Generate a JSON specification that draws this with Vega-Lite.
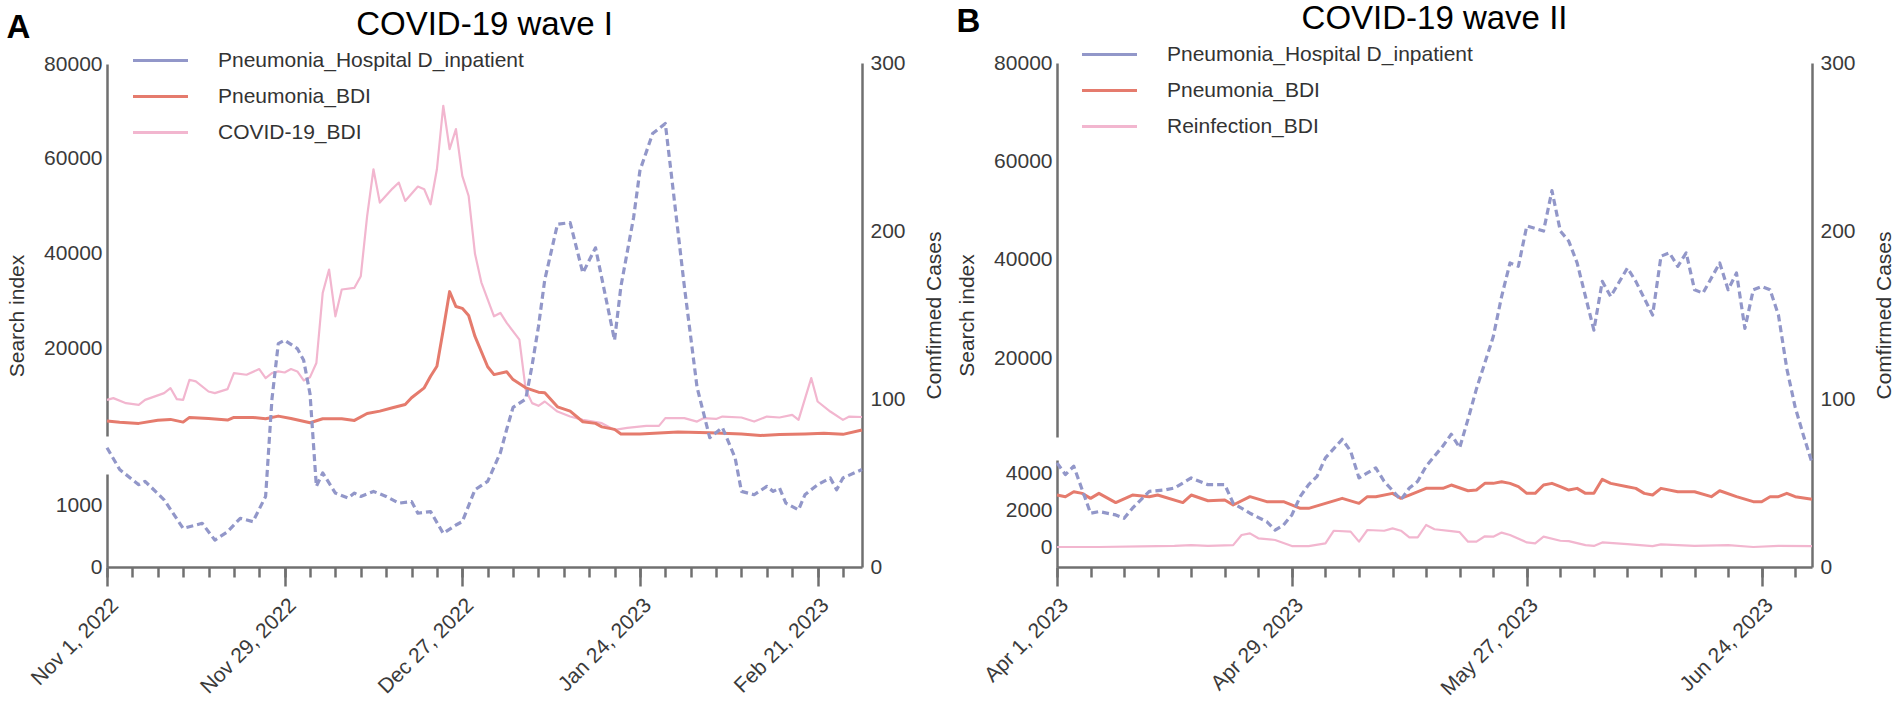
{
  "$schema": "https://vega.github.io/schema/vega-lite/v6.json",
  "background": "white",
  "padding": {"left": 6, "top": 3, "right": 5, "bottom": 5},
  "config": {
    "font": "Liberation Sans",
    "view": {"stroke": null},
    "axis": {
      "grid": false,
      "labelFont": "Liberation Sans",
      "labelFontSize": 21,
      "labelColor": "#3a3a3a",
      "titleFont": "Liberation Sans",
      "titleFontSize": 21,
      "titleFontWeight": "normal",
      "titleColor": "#333333",
      "domainColor": "#707070",
      "domainWidth": 2.5,
      "tickColor": "#707070",
      "tickWidth": 2.5
    },
    "title": {"font": "Liberation Sans", "color": "#111111"},
    "line": {"strokeJoin": "round"}
  },
  "datasets": {
    "aHosp": [
      {"d": "2022-11-01", "v": 71}, {"d": "2022-11-03", "v": 58}, {"d": "2022-11-06", "v": 49}, {"d": "2022-11-07", "v": 51},
      {"d": "2022-11-10", "v": 40}, {"d": "2022-11-13", "v": 23}, {"d": "2022-11-16", "v": 26}, {"d": "2022-11-18", "v": 16},
      {"d": "2022-11-20", "v": 21}, {"d": "2022-11-22", "v": 29}, {"d": "2022-11-24", "v": 27}, {"d": "2022-11-26", "v": 42},
      {"d": "2022-11-27", "v": 100}, {"d": "2022-11-28", "v": 133}, {"d": "2022-11-29", "v": 135}, {"d": "2022-12-01", "v": 130},
      {"d": "2022-12-02", "v": 123}, {"d": "2022-12-03", "v": 103}, {"d": "2022-12-04", "v": 48}, {"d": "2022-12-05", "v": 56},
      {"d": "2022-12-07", "v": 44}, {"d": "2022-12-09", "v": 41}, {"d": "2022-12-10", "v": 44}, {"d": "2022-12-11", "v": 42},
      {"d": "2022-12-13", "v": 45}, {"d": "2022-12-15", "v": 42}, {"d": "2022-12-17", "v": 38}, {"d": "2022-12-19", "v": 39},
      {"d": "2022-12-20", "v": 32}, {"d": "2022-12-22", "v": 33}, {"d": "2022-12-24", "v": 20}, {"d": "2022-12-26", "v": 25},
      {"d": "2022-12-27", "v": 27}, {"d": "2022-12-29", "v": 46}, {"d": "2022-12-31", "v": 51}, {"d": "2023-01-02", "v": 68},
      {"d": "2023-01-03", "v": 82}, {"d": "2023-01-04", "v": 95}, {"d": "2023-01-06", "v": 100}, {"d": "2023-01-07", "v": 120},
      {"d": "2023-01-08", "v": 143}, {"d": "2023-01-09", "v": 171}, {"d": "2023-01-11", "v": 204}, {"d": "2023-01-13", "v": 205},
      {"d": "2023-01-15", "v": 175}, {"d": "2023-01-17", "v": 190}, {"d": "2023-01-20", "v": 135}, {"d": "2023-01-21", "v": 167},
      {"d": "2023-01-23", "v": 208}, {"d": "2023-01-24", "v": 236}, {"d": "2023-01-26", "v": 258}, {"d": "2023-01-28", "v": 264},
      {"d": "2023-01-29", "v": 232}, {"d": "2023-01-31", "v": 167}, {"d": "2023-02-02", "v": 107}, {"d": "2023-02-04", "v": 77},
      {"d": "2023-02-06", "v": 83}, {"d": "2023-02-08", "v": 65}, {"d": "2023-02-09", "v": 45}, {"d": "2023-02-11", "v": 43},
      {"d": "2023-02-13", "v": 48}, {"d": "2023-02-14", "v": 45}, {"d": "2023-02-15", "v": 47}, {"d": "2023-02-16", "v": 38},
      {"d": "2023-02-18", "v": 34}, {"d": "2023-02-19", "v": 43}, {"d": "2023-02-21", "v": 49}, {"d": "2023-02-23", "v": 53},
      {"d": "2023-02-24", "v": 46}, {"d": "2023-02-25", "v": 53}, {"d": "2023-02-28", "v": 58}
    ],
    "aPneu": [
      {"d": "2022-11-01", "v": 4740}, {"d": "2022-11-03", "v": 4500}, {"d": "2022-11-06", "v": 4260}, {"d": "2022-11-09", "v": 4900},
      {"d": "2022-11-11", "v": 5100}, {"d": "2022-11-13", "v": 4530}, {"d": "2022-11-14", "v": 5520}, {"d": "2022-11-17", "v": 5300},
      {"d": "2022-11-20", "v": 4950}, {"d": "2022-11-21", "v": 5520}, {"d": "2022-11-24", "v": 5500}, {"d": "2022-11-26", "v": 5240},
      {"d": "2022-11-28", "v": 5790}, {"d": "2022-11-30", "v": 5300}, {"d": "2022-12-03", "v": 4400}, {"d": "2022-12-05", "v": 5240},
      {"d": "2022-12-08", "v": 5240}, {"d": "2022-12-10", "v": 4880}, {"d": "2022-12-12", "v": 6350}, {"d": "2022-12-14", "v": 6840},
      {"d": "2022-12-16", "v": 7550}, {"d": "2022-12-18", "v": 8250}, {"d": "2022-12-19", "v": 9650}, {"d": "2022-12-21", "v": 11750},
      {"d": "2022-12-22", "v": 14190}, {"d": "2022-12-23", "v": 16290}, {"d": "2022-12-24", "v": 24000}, {"d": "2022-12-25", "v": 32030},
      {"d": "2022-12-26", "v": 28880}, {"d": "2022-12-27", "v": 28500}, {"d": "2022-12-28", "v": 27000}, {"d": "2022-12-29", "v": 22580},
      {"d": "2022-12-31", "v": 16200}, {"d": "2023-01-01", "v": 14540}, {"d": "2023-01-03", "v": 15140}, {"d": "2023-01-04", "v": 13490},
      {"d": "2023-01-06", "v": 11760}, {"d": "2023-01-08", "v": 10830}, {"d": "2023-01-09", "v": 10700}, {"d": "2023-01-11", "v": 7740},
      {"d": "2023-01-13", "v": 6840}, {"d": "2023-01-15", "v": 4600}, {"d": "2023-01-17", "v": 4260}, {"d": "2023-01-18", "v": 3520},
      {"d": "2023-01-20", "v": 3000}, {"d": "2023-01-21", "v": 2040}, {"d": "2023-01-24", "v": 2040}, {"d": "2023-01-27", "v": 2250},
      {"d": "2023-01-30", "v": 2460}, {"d": "2023-02-04", "v": 2300}, {"d": "2023-02-09", "v": 2000}, {"d": "2023-02-12", "v": 1700},
      {"d": "2023-02-15", "v": 1900}, {"d": "2023-02-19", "v": 2040}, {"d": "2023-02-22", "v": 2190}, {"d": "2023-02-25", "v": 1950},
      {"d": "2023-02-28", "v": 2880}
    ],
    "aCovid": [
      {"d": "2022-11-01", "v": 9220}, {"d": "2022-11-02", "v": 9580}, {"d": "2022-11-04", "v": 8520}, {"d": "2022-11-06", "v": 8170},
      {"d": "2022-11-07", "v": 9220}, {"d": "2022-11-10", "v": 10640}, {"d": "2022-11-11", "v": 11700}, {"d": "2022-11-12", "v": 9370},
      {"d": "2022-11-13", "v": 9220}, {"d": "2022-11-14", "v": 13450}, {"d": "2022-11-15", "v": 13100}, {"d": "2022-11-17", "v": 10980},
      {"d": "2022-11-18", "v": 10640}, {"d": "2022-11-20", "v": 11480}, {"d": "2022-11-21", "v": 14860}, {"d": "2022-11-23", "v": 14510},
      {"d": "2022-11-25", "v": 15710}, {"d": "2022-11-26", "v": 13810}, {"d": "2022-11-27", "v": 14860}, {"d": "2022-11-28", "v": 15210},
      {"d": "2022-11-29", "v": 14990}, {"d": "2022-11-30", "v": 15710}, {"d": "2022-12-01", "v": 15210}, {"d": "2022-12-02", "v": 13300},
      {"d": "2022-12-03", "v": 14000}, {"d": "2022-12-04", "v": 16980}, {"d": "2022-12-05", "v": 31770}, {"d": "2022-12-06", "v": 36690},
      {"d": "2022-12-07", "v": 26830}, {"d": "2022-12-08", "v": 32470}, {"d": "2022-12-10", "v": 32830}, {"d": "2022-12-11", "v": 35280},
      {"d": "2022-12-12", "v": 47950}, {"d": "2022-12-13", "v": 57820}, {"d": "2022-12-14", "v": 50790}, {"d": "2022-12-16", "v": 53740},
      {"d": "2022-12-17", "v": 55010}, {"d": "2022-12-18", "v": 51130}, {"d": "2022-12-20", "v": 54170}, {"d": "2022-12-21", "v": 53600},
      {"d": "2022-12-22", "v": 50430}, {"d": "2022-12-23", "v": 57820}, {"d": "2022-12-24", "v": 71200}, {"d": "2022-12-25", "v": 62050},
      {"d": "2022-12-26", "v": 66280}, {"d": "2022-12-27", "v": 56410}, {"d": "2022-12-28", "v": 52180}, {"d": "2022-12-29", "v": 40000},
      {"d": "2022-12-30", "v": 34000}, {"d": "2023-01-01", "v": 26830}, {"d": "2023-01-02", "v": 27540}, {"d": "2023-01-03", "v": 25430},
      {"d": "2023-01-05", "v": 21900}, {"d": "2023-01-06", "v": 11340}, {"d": "2023-01-07", "v": 8530}, {"d": "2023-01-08", "v": 7960},
      {"d": "2023-01-09", "v": 8870}, {"d": "2023-01-11", "v": 6760}, {"d": "2023-01-13", "v": 5700}, {"d": "2023-01-15", "v": 5000},
      {"d": "2023-01-18", "v": 4300}, {"d": "2023-01-20", "v": 2880}, {"d": "2023-01-22", "v": 3300}, {"d": "2023-01-25", "v": 3730},
      {"d": "2023-01-27", "v": 3730}, {"d": "2023-01-28", "v": 5360}, {"d": "2023-01-31", "v": 5360}, {"d": "2023-02-02", "v": 4640},
      {"d": "2023-02-03", "v": 5360}, {"d": "2023-02-05", "v": 5200}, {"d": "2023-02-06", "v": 5700}, {"d": "2023-02-09", "v": 5500},
      {"d": "2023-02-11", "v": 4640}, {"d": "2023-02-13", "v": 5700}, {"d": "2023-02-15", "v": 5500}, {"d": "2023-02-17", "v": 6050},
      {"d": "2023-02-18", "v": 5000}, {"d": "2023-02-20", "v": 13810}, {"d": "2023-02-21", "v": 8870}, {"d": "2023-02-23", "v": 6760},
      {"d": "2023-02-25", "v": 5000}, {"d": "2023-02-26", "v": 5700}, {"d": "2023-02-28", "v": 5600}
    ],
    "bHosp": [
      {"d": "2023-04-01", "v": 62}, {"d": "2023-04-02", "v": 55}, {"d": "2023-04-03", "v": 60}, {"d": "2023-04-05", "v": 32},
      {"d": "2023-04-06", "v": 33}, {"d": "2023-04-08", "v": 31}, {"d": "2023-04-09", "v": 29}, {"d": "2023-04-10", "v": 35},
      {"d": "2023-04-12", "v": 45}, {"d": "2023-04-14", "v": 46}, {"d": "2023-04-15", "v": 47}, {"d": "2023-04-17", "v": 53},
      {"d": "2023-04-19", "v": 49}, {"d": "2023-04-21", "v": 49}, {"d": "2023-04-22", "v": 38}, {"d": "2023-04-24", "v": 32},
      {"d": "2023-04-26", "v": 27}, {"d": "2023-04-27", "v": 22}, {"d": "2023-04-28", "v": 25}, {"d": "2023-04-29", "v": 31},
      {"d": "2023-04-30", "v": 42}, {"d": "2023-05-01", "v": 49}, {"d": "2023-05-02", "v": 54}, {"d": "2023-05-03", "v": 65},
      {"d": "2023-05-05", "v": 76}, {"d": "2023-05-06", "v": 69}, {"d": "2023-05-07", "v": 53}, {"d": "2023-05-08", "v": 56},
      {"d": "2023-05-09", "v": 59}, {"d": "2023-05-10", "v": 51}, {"d": "2023-05-12", "v": 40}, {"d": "2023-05-13", "v": 47},
      {"d": "2023-05-14", "v": 51}, {"d": "2023-05-15", "v": 60}, {"d": "2023-05-17", "v": 72}, {"d": "2023-05-18", "v": 79},
      {"d": "2023-05-19", "v": 71}, {"d": "2023-05-20", "v": 88}, {"d": "2023-05-21", "v": 106}, {"d": "2023-05-23", "v": 137},
      {"d": "2023-05-24", "v": 161}, {"d": "2023-05-25", "v": 181}, {"d": "2023-05-26", "v": 179}, {"d": "2023-05-27", "v": 203},
      {"d": "2023-05-29", "v": 200}, {"d": "2023-05-30", "v": 224}, {"d": "2023-05-31", "v": 200}, {"d": "2023-06-01", "v": 194},
      {"d": "2023-06-02", "v": 181}, {"d": "2023-06-04", "v": 141}, {"d": "2023-06-05", "v": 170}, {"d": "2023-06-06", "v": 161},
      {"d": "2023-06-08", "v": 178}, {"d": "2023-06-09", "v": 170}, {"d": "2023-06-11", "v": 150}, {"d": "2023-06-12", "v": 185},
      {"d": "2023-06-13", "v": 187}, {"d": "2023-06-14", "v": 179}, {"d": "2023-06-15", "v": 187}, {"d": "2023-06-16", "v": 165},
      {"d": "2023-06-17", "v": 163}, {"d": "2023-06-19", "v": 181}, {"d": "2023-06-20", "v": 165}, {"d": "2023-06-21", "v": 175},
      {"d": "2023-06-22", "v": 142}, {"d": "2023-06-23", "v": 165}, {"d": "2023-06-24", "v": 167}, {"d": "2023-06-25", "v": 165},
      {"d": "2023-06-26", "v": 150}, {"d": "2023-06-27", "v": 118}, {"d": "2023-06-28", "v": 95}, {"d": "2023-06-29", "v": 78},
      {"d": "2023-06-30", "v": 62}
    ],
    "bPneu": [
      {"d": "2023-04-01", "v": 2810}, {"d": "2023-04-02", "v": 2720}, {"d": "2023-04-03", "v": 2990}, {"d": "2023-04-04", "v": 2900},
      {"d": "2023-04-05", "v": 2630}, {"d": "2023-04-06", "v": 2900}, {"d": "2023-04-08", "v": 2400}, {"d": "2023-04-10", "v": 2810},
      {"d": "2023-04-12", "v": 2720}, {"d": "2023-04-13", "v": 2810}, {"d": "2023-04-16", "v": 2400}, {"d": "2023-04-17", "v": 2810},
      {"d": "2023-04-19", "v": 2500}, {"d": "2023-04-21", "v": 2540}, {"d": "2023-04-22", "v": 2270}, {"d": "2023-04-24", "v": 2720},
      {"d": "2023-04-26", "v": 2450}, {"d": "2023-04-28", "v": 2450}, {"d": "2023-04-30", "v": 2090}, {"d": "2023-05-01", "v": 2090},
      {"d": "2023-05-03", "v": 2360}, {"d": "2023-05-05", "v": 2630}, {"d": "2023-05-07", "v": 2360}, {"d": "2023-05-08", "v": 2720},
      {"d": "2023-05-09", "v": 2720}, {"d": "2023-05-11", "v": 2900}, {"d": "2023-05-12", "v": 2630}, {"d": "2023-05-13", "v": 2810},
      {"d": "2023-05-15", "v": 3170}, {"d": "2023-05-17", "v": 3170}, {"d": "2023-05-18", "v": 3350}, {"d": "2023-05-20", "v": 3040},
      {"d": "2023-05-21", "v": 3080}, {"d": "2023-05-22", "v": 3440}, {"d": "2023-05-23", "v": 3440}, {"d": "2023-05-24", "v": 3530},
      {"d": "2023-05-25", "v": 3440}, {"d": "2023-05-26", "v": 3260}, {"d": "2023-05-27", "v": 2900}, {"d": "2023-05-28", "v": 2900},
      {"d": "2023-05-29", "v": 3350}, {"d": "2023-05-30", "v": 3440}, {"d": "2023-05-31", "v": 3260}, {"d": "2023-06-01", "v": 3080},
      {"d": "2023-06-02", "v": 3170}, {"d": "2023-06-03", "v": 2900}, {"d": "2023-06-04", "v": 2900}, {"d": "2023-06-05", "v": 3660},
      {"d": "2023-06-06", "v": 3440}, {"d": "2023-06-08", "v": 3260}, {"d": "2023-06-09", "v": 3170}, {"d": "2023-06-10", "v": 2900},
      {"d": "2023-06-11", "v": 2810}, {"d": "2023-06-12", "v": 3170}, {"d": "2023-06-14", "v": 2990}, {"d": "2023-06-16", "v": 2990},
      {"d": "2023-06-18", "v": 2720}, {"d": "2023-06-19", "v": 3040}, {"d": "2023-06-21", "v": 2720}, {"d": "2023-06-23", "v": 2450},
      {"d": "2023-06-24", "v": 2450}, {"d": "2023-06-25", "v": 2720}, {"d": "2023-06-26", "v": 2720}, {"d": "2023-06-27", "v": 2900},
      {"d": "2023-06-28", "v": 2720}, {"d": "2023-06-30", "v": 2580}
    ],
    "bReinf": [
      {"d": "2023-04-01", "v": 0}, {"d": "2023-04-06", "v": 0}, {"d": "2023-04-11", "v": 30}, {"d": "2023-04-15", "v": 60},
      {"d": "2023-04-17", "v": 100}, {"d": "2023-04-19", "v": 60}, {"d": "2023-04-22", "v": 100}, {"d": "2023-04-23", "v": 650},
      {"d": "2023-04-24", "v": 740}, {"d": "2023-04-25", "v": 470}, {"d": "2023-04-27", "v": 380}, {"d": "2023-04-29", "v": 50},
      {"d": "2023-05-01", "v": 50}, {"d": "2023-05-03", "v": 200}, {"d": "2023-05-04", "v": 880}, {"d": "2023-05-06", "v": 830},
      {"d": "2023-05-07", "v": 290}, {"d": "2023-05-08", "v": 920}, {"d": "2023-05-10", "v": 880}, {"d": "2023-05-11", "v": 1010},
      {"d": "2023-05-12", "v": 880}, {"d": "2023-05-13", "v": 520}, {"d": "2023-05-14", "v": 520}, {"d": "2023-05-15", "v": 1190},
      {"d": "2023-05-16", "v": 960}, {"d": "2023-05-18", "v": 860}, {"d": "2023-05-19", "v": 800}, {"d": "2023-05-20", "v": 290},
      {"d": "2023-05-21", "v": 290}, {"d": "2023-05-22", "v": 580}, {"d": "2023-05-23", "v": 560}, {"d": "2023-05-24", "v": 780},
      {"d": "2023-05-25", "v": 650}, {"d": "2023-05-27", "v": 250}, {"d": "2023-05-28", "v": 200}, {"d": "2023-05-29", "v": 560},
      {"d": "2023-05-31", "v": 340}, {"d": "2023-06-01", "v": 320}, {"d": "2023-06-03", "v": 100}, {"d": "2023-06-04", "v": 60},
      {"d": "2023-06-05", "v": 250}, {"d": "2023-06-08", "v": 160}, {"d": "2023-06-11", "v": 50}, {"d": "2023-06-12", "v": 140},
      {"d": "2023-06-16", "v": 60}, {"d": "2023-06-20", "v": 100}, {"d": "2023-06-23", "v": 0}, {"d": "2023-06-26", "v": 60},
      {"d": "2023-06-30", "v": 50}
    ]
  },
  "spacing": 11,
  "hconcat": [
    {
      "title": {"text": "A", "anchor": "start", "frame": "bounds", "fontSize": 33, "fontWeight": "bold", "color": "#000000", "dy": 40},
      "resolve": {"scale": {"color": "independent"}, "legend": {"color": "independent"}},
      "vconcat": [
        {
          "width": 755,
          "height": 504,
          "title": {"text": "COVID-19 wave I", "fontSize": 33, "fontWeight": "normal", "color": "#000000", "anchor": "middle", "frame": "group", "offset": 8},
          "layer": [
            {
              "data": {"name": "aCovid"},
              "mark": {"type": "line", "strokeWidth": 2.2},
              "encoding": {
                "x": {
                  "field": "d",
                  "type": "temporal",
                  "scale": {"type": "utc", "domain": [{"year": 2022, "month": 11, "date": 1, "utc": true}, {"year": 2023, "month": 2, "date": 28, "utc": true}]},
                  "axis": {
                    "orient": "bottom",
                    "title": null,
                    "labels": false,
                    "tickSize": 10,
                    "values": [
                      {"year": 2022, "month": 11, "date": 1, "utc": true}, {"year": 2022, "month": 11, "date": 5, "utc": true},
                      {"year": 2022, "month": 11, "date": 9, "utc": true}, {"year": 2022, "month": 11, "date": 13, "utc": true},
                      {"year": 2022, "month": 11, "date": 17, "utc": true}, {"year": 2022, "month": 11, "date": 21, "utc": true},
                      {"year": 2022, "month": 11, "date": 25, "utc": true}, {"year": 2022, "month": 11, "date": 29, "utc": true},
                      {"year": 2022, "month": 12, "date": 3, "utc": true}, {"year": 2022, "month": 12, "date": 7, "utc": true},
                      {"year": 2022, "month": 12, "date": 11, "utc": true}, {"year": 2022, "month": 12, "date": 15, "utc": true},
                      {"year": 2022, "month": 12, "date": 19, "utc": true}, {"year": 2022, "month": 12, "date": 23, "utc": true},
                      {"year": 2022, "month": 12, "date": 27, "utc": true}, {"year": 2022, "month": 12, "date": 31, "utc": true},
                      {"year": 2023, "month": 1, "date": 4, "utc": true}, {"year": 2023, "month": 1, "date": 8, "utc": true},
                      {"year": 2023, "month": 1, "date": 12, "utc": true}, {"year": 2023, "month": 1, "date": 16, "utc": true},
                      {"year": 2023, "month": 1, "date": 20, "utc": true}, {"year": 2023, "month": 1, "date": 24, "utc": true},
                      {"year": 2023, "month": 1, "date": 28, "utc": true}, {"year": 2023, "month": 2, "date": 1, "utc": true},
                      {"year": 2023, "month": 2, "date": 5, "utc": true}, {"year": 2023, "month": 2, "date": 9, "utc": true},
                      {"year": 2023, "month": 2, "date": 13, "utc": true}, {"year": 2023, "month": 2, "date": 17, "utc": true},
                      {"year": 2023, "month": 2, "date": 21, "utc": true}, {"year": 2023, "month": 2, "date": 25, "utc": true}
                    ]
                  }
                },
                "y": {"field": "v", "type": "quantitative", "scale": {"domain": [0, 1500, 1600, 80000], "range": [504, 411, 373, 1], "nice": false, "zero": false}, "axis": null},
                "color": {
                  "datum": "COVID-19_BDI",
                  "type": "nominal",
                  "scale": {"domain": ["Pneumonia_Hospital D_inpatient", "Pneumonia_BDI", "COVID-19_BDI"], "range": ["#9297c9", "#e57b6d", "#f2b6cf"]},
                  "legend": {
                    "orient": "none",
                    "direction": "vertical",
                    "legendX": 43,
                    "legendY": -13,
                    "title": null,
                    "symbolType": "M-6,0H6",
                    "symbolSize": 84,
                    "symbolStrokeWidth": 3,
                    "labelFontSize": 21,
                    "labelColor": "#333333",
                    "labelOffset": 47,
                    "labelLimit": 600,
                    "rowPadding": 14,
                    "encode": {"symbols": {"update": {"strokeDash": {"signal": "datum.value === 'Pneumonia_Hospital D_inpatient' ? [7, 4] : [1, 0]"}}}}
                  }
                }
              }
            },
            {
              "data": {"name": "aPneu"},
              "mark": {"type": "line", "strokeWidth": 3},
              "encoding": {
                "x": {
                  "field": "d",
                  "type": "temporal",
                  "scale": {"type": "utc", "domain": [{"year": 2022, "month": 11, "date": 1, "utc": true}, {"year": 2023, "month": 2, "date": 28, "utc": true}]},
                  "axis": {
                    "orient": "bottom",
                    "title": null,
                    "domain": false,
                    "tickSize": 19,
                    "values": [
                      {"year": 2022, "month": 11, "date": 1, "utc": true}, {"year": 2022, "month": 11, "date": 29, "utc": true},
                      {"year": 2022, "month": 12, "date": 27, "utc": true}, {"year": 2023, "month": 1, "date": 24, "utc": true},
                      {"year": 2023, "month": 2, "date": 21, "utc": true}
                    ],
                    "labelExpr": "utcFormat(datum.value, '%b %-d, %Y')",
                    "labelAngle": -45,
                    "labelOverlap": false,
                    "labelFlush": false,
                    "labelPadding": 8
                  }
                },
                "y": {
                  "field": "v",
                  "type": "quantitative",
                  "scale": {"domain": [0, 1500, 1600, 80000], "range": [504, 411, 373, 1], "nice": false, "zero": false},
                  "axis": {"orient": "left", "title": "Search index", "values": [0, 1000, 20000, 40000, 60000, 80000], "format": "d", "ticks": false, "labelPadding": 5, "titlePadding": 16, "domainDash": [93, 38, 1000]}
                },
                "color": {
                  "datum": "Pneumonia_BDI",
                  "type": "nominal",
                  "scale": {"domain": ["Pneumonia_Hospital D_inpatient", "Pneumonia_BDI", "COVID-19_BDI"], "range": ["#9297c9", "#e57b6d", "#f2b6cf"]}
                }
              }
            },
            {
              "data": {"name": "aHosp"},
              "mark": {"type": "line", "strokeWidth": 3.2, "strokeDash": [7, 4]},
              "encoding": {
                "x": {
                  "field": "d",
                  "type": "temporal",
                  "scale": {"type": "utc", "domain": [{"year": 2022, "month": 11, "date": 1, "utc": true}, {"year": 2023, "month": 2, "date": 28, "utc": true}]},
                  "axis": null
                },
                "y": {
                  "field": "v",
                  "type": "quantitative",
                  "scale": {"domain": [0, 300], "nice": false},
                  "axis": {"orient": "right", "title": "Comfirmed Cases", "values": [0, 100, 200, 300], "ticks": false, "labelPadding": 8, "titlePadding": 18, "titleAngle": 270, "titleBaseline": "top"}
                },
                "color": {
                  "datum": "Pneumonia_Hospital D_inpatient",
                  "type": "nominal",
                  "scale": {"domain": ["Pneumonia_Hospital D_inpatient", "Pneumonia_BDI", "COVID-19_BDI"], "range": ["#9297c9", "#e57b6d", "#f2b6cf"]}
                }
              }
            }
          ],
          "resolve": {"scale": {"y": "independent"}, "axis": {"x": "independent"}}
        }
      ]
    },
    {
      "title": {"text": "B", "anchor": "start", "frame": "bounds", "fontSize": 33, "fontWeight": "bold", "color": "#000000", "dy": 40},
      "resolve": {"scale": {"color": "independent"}, "legend": {"color": "independent"}},
      "vconcat": [
        {
          "width": 755,
          "height": 504,
          "title": {"text": "COVID-19 wave II", "fontSize": 33, "fontWeight": "normal", "color": "#000000", "anchor": "middle", "frame": "group", "offset": 8},
          "layer": [
            {
              "data": {"name": "bReinf"},
              "mark": {"type": "line", "strokeWidth": 2.2},
              "encoding": {
                "x": {
                  "field": "d",
                  "type": "temporal",
                  "scale": {"type": "utc", "domain": [{"year": 2023, "month": 4, "date": 1, "utc": true}, {"year": 2023, "month": 6, "date": 30, "utc": true}]},
                  "axis": {
                    "orient": "bottom",
                    "title": null,
                    "labels": false,
                    "tickSize": 10,
                    "values": [
                      {"year": 2023, "month": 4, "date": 1, "utc": true}, {"year": 2023, "month": 4, "date": 5, "utc": true},
                      {"year": 2023, "month": 4, "date": 9, "utc": true}, {"year": 2023, "month": 4, "date": 13, "utc": true},
                      {"year": 2023, "month": 4, "date": 17, "utc": true}, {"year": 2023, "month": 4, "date": 21, "utc": true},
                      {"year": 2023, "month": 4, "date": 25, "utc": true}, {"year": 2023, "month": 4, "date": 29, "utc": true},
                      {"year": 2023, "month": 5, "date": 3, "utc": true}, {"year": 2023, "month": 5, "date": 7, "utc": true},
                      {"year": 2023, "month": 5, "date": 11, "utc": true}, {"year": 2023, "month": 5, "date": 15, "utc": true},
                      {"year": 2023, "month": 5, "date": 19, "utc": true}, {"year": 2023, "month": 5, "date": 23, "utc": true},
                      {"year": 2023, "month": 5, "date": 27, "utc": true}, {"year": 2023, "month": 5, "date": 31, "utc": true},
                      {"year": 2023, "month": 6, "date": 4, "utc": true}, {"year": 2023, "month": 6, "date": 8, "utc": true},
                      {"year": 2023, "month": 6, "date": 12, "utc": true}, {"year": 2023, "month": 6, "date": 16, "utc": true},
                      {"year": 2023, "month": 6, "date": 20, "utc": true}, {"year": 2023, "month": 6, "date": 24, "utc": true},
                      {"year": 2023, "month": 6, "date": 28, "utc": true}
                    ]
                  }
                },
                "y": {"field": "v", "type": "quantitative", "scale": {"domain": [-1080, 4000, 4001, 80000], "range": [504, 410, 374, 0], "nice": false, "zero": false}, "axis": null},
                "color": {
                  "datum": "Reinfection_BDI",
                  "type": "nominal",
                  "scale": {"domain": ["Pneumonia_Hospital D_inpatient", "Pneumonia_BDI", "Reinfection_BDI"], "range": ["#9297c9", "#e57b6d", "#f2b6cf"]},
                  "legend": {
                    "orient": "none",
                    "direction": "vertical",
                    "legendX": 42,
                    "legendY": -19,
                    "title": null,
                    "symbolType": "M-6,0H6",
                    "symbolSize": 84,
                    "symbolStrokeWidth": 3,
                    "labelFontSize": 21,
                    "labelColor": "#333333",
                    "labelOffset": 47,
                    "labelLimit": 600,
                    "rowPadding": 14,
                    "encode": {"symbols": {"update": {"strokeDash": {"signal": "datum.value === 'Pneumonia_Hospital D_inpatient' ? [7, 4] : [1, 0]"}}}}
                  }
                }
              }
            },
            {
              "data": {"name": "bPneu"},
              "mark": {"type": "line", "strokeWidth": 3},
              "encoding": {
                "x": {
                  "field": "d",
                  "type": "temporal",
                  "scale": {"type": "utc", "domain": [{"year": 2023, "month": 4, "date": 1, "utc": true}, {"year": 2023, "month": 6, "date": 30, "utc": true}]},
                  "axis": {
                    "orient": "bottom",
                    "title": null,
                    "domain": false,
                    "tickSize": 19,
                    "values": [
                      {"year": 2023, "month": 4, "date": 1, "utc": true}, {"year": 2023, "month": 4, "date": 29, "utc": true},
                      {"year": 2023, "month": 5, "date": 27, "utc": true}, {"year": 2023, "month": 6, "date": 24, "utc": true}
                    ],
                    "labelExpr": "utcFormat(datum.value, '%b %-d, %Y')",
                    "labelAngle": -45,
                    "labelOverlap": false,
                    "labelFlush": false,
                    "labelPadding": 8
                  }
                },
                "y": {
                  "field": "v",
                  "type": "quantitative",
                  "scale": {"domain": [-1080, 4000, 4001, 80000], "range": [504, 410, 374, 0], "nice": false, "zero": false},
                  "axis": {"orient": "left", "title": "Search index", "values": [0, 2000, 4000, 20000, 40000, 60000, 80000], "format": "d", "ticks": false, "labelPadding": 5, "titlePadding": 16, "domainDash": [107, 23, 1000]}
                },
                "color": {
                  "datum": "Pneumonia_BDI",
                  "type": "nominal",
                  "scale": {"domain": ["Pneumonia_Hospital D_inpatient", "Pneumonia_BDI", "Reinfection_BDI"], "range": ["#9297c9", "#e57b6d", "#f2b6cf"]}
                }
              }
            },
            {
              "data": {"name": "bHosp"},
              "mark": {"type": "line", "strokeWidth": 3.2, "strokeDash": [7, 4]},
              "encoding": {
                "x": {
                  "field": "d",
                  "type": "temporal",
                  "scale": {"type": "utc", "domain": [{"year": 2023, "month": 4, "date": 1, "utc": true}, {"year": 2023, "month": 6, "date": 30, "utc": true}]},
                  "axis": null
                },
                "y": {
                  "field": "v",
                  "type": "quantitative",
                  "scale": {"domain": [0, 300], "nice": false},
                  "axis": {"orient": "right", "title": "Comfirmed Cases", "values": [0, 100, 200, 300], "ticks": false, "labelPadding": 8, "titlePadding": 18, "titleAngle": 270, "titleBaseline": "top"}
                },
                "color": {
                  "datum": "Pneumonia_Hospital D_inpatient",
                  "type": "nominal",
                  "scale": {"domain": ["Pneumonia_Hospital D_inpatient", "Pneumonia_BDI", "Reinfection_BDI"], "range": ["#9297c9", "#e57b6d", "#f2b6cf"]}
                }
              }
            }
          ],
          "resolve": {"scale": {"y": "independent"}, "axis": {"x": "independent"}}
        }
      ]
    }
  ],
  "resolve": {"scale": {"color": "independent"}, "legend": {"color": "independent"}}
}
